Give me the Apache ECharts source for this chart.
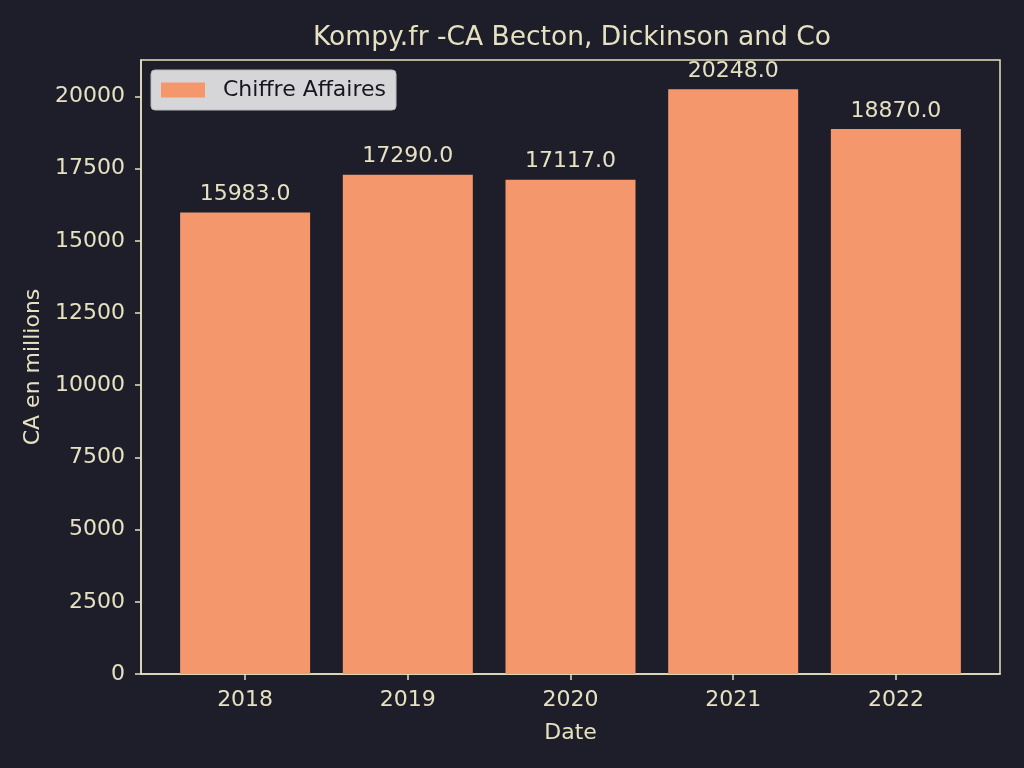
<!DOCTYPE html>
<html><head><meta charset="utf-8">
<script src="https://cdn.jsdelivr.net/npm/echarts@6/dist/echarts.min.js"></script>
<style>html,body{margin:0;padding:0;background:#1d1e2a;}#c{width:1024px;height:768px;}</style>
</head><body><div id="c"></div>
<script>
const years = [2018, 2019, 2020, 2021, 2022];
const values = [15983.0, 17290.0, 17117.0, 20248.0, 18870.0];
const yTicks = [0, 2500, 5000, 7500, 10000, 12500, 15000, 17500, 20000];
const title = 'Kompy.fr -CA Becton, Dickinson and Co';
const seriesName = 'Chiffre Affaires';

const fg = '#e6e1c0';
const font = 'DejaVu Sans';
const chart = echarts.init(document.getElementById('c'), null, {renderer: 'canvas'});
chart.setOption({
  backgroundColor: '#1d1e2a',
  animation: false,
  textStyle: {fontFamily: font},
  title: {text: title, left: 567, top: 20, textAlign: 'center',
    textStyle: {color: fg, fontSize: 26.5, fontWeight: 'normal', fontFamily: font}},
  legend: {left: 151, top: 70, padding: [9, 10, 9, 10], itemWidth: 44, itemHeight: 15, itemGap: 10,
    backgroundColor: 'rgba(230,230,232,0.92)', borderColor: '#bbbbbb', borderWidth: 1, borderRadius: 4,
    textStyle: {color: '#15161e', fontSize: 22, fontFamily: font, padding: [0, 0, 0, 13]},
    data: [{name: seriesName, icon: 'rect'}]},
  grid: {left: 141, right: 24, top: 60, bottom: 94, show: true, borderColor: fg, borderWidth: 1.5, backgroundColor: 'transparent'},
  xAxis: {type: 'value', min: 2017.36, max: 2022.64, name: 'Date', nameLocation: 'middle', nameGap: 48,
    nameTextStyle: {color: fg, fontSize: 22, fontFamily: font},
    axisLine: {show: true, lineStyle: {color: fg, width: 1.5}},
    axisTick: {show: true, length: 6, lineStyle: {color: fg, width: 1.5}, customValues: years},
    axisLabel: {color: fg, fontSize: 22, margin: 15, fontFamily: font, customValues: years, formatter: v => String(v)},
    splitLine: {show: false}},
  yAxis: {type: 'value', min: 0, max: 21260.4, name: 'CA en millions', nameLocation: 'middle', nameGap: 97,
    nameTextStyle: {color: fg, fontSize: 22, fontFamily: font},
    axisLine: {show: true, lineStyle: {color: fg, width: 1.5}},
    axisTick: {show: true, length: 6, lineStyle: {color: fg, width: 1.5}, customValues: yTicks},
    axisLabel: {color: fg, fontSize: 22, margin: 16, fontFamily: font, customValues: yTicks, formatter: v => String(v)},
    splitLine: {show: false}},
  series: [{type: 'bar', name: seriesName, barWidth: 130,
    data: years.map((y, i) => [y, values[i]]),
    itemStyle: {color: '#f4976d'},
    label: {show: true, position: 'top', distance: 7, color: fg, fontSize: 22, fontFamily: font,
      formatter: p => p.value[1].toFixed(1)}}]
});
</script></body></html>
